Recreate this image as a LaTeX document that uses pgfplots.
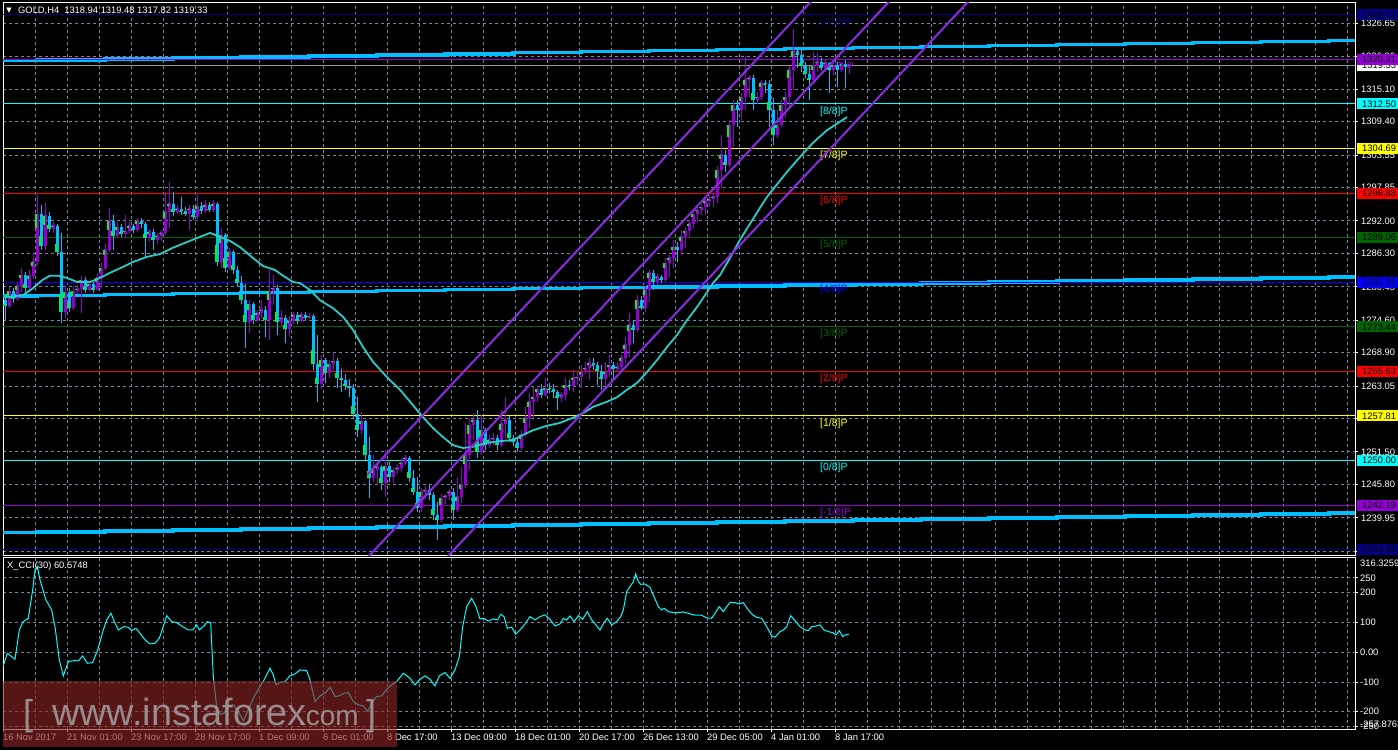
\documentclass[border=0pt]{standalone}
\usepackage{pgfplots}
\pgfplotsset{compat=1.18}
\usepackage{pgfplotstable}
\usepackage{fontspec}
\setmainfont{Liberation Sans}
\newfontfamily\symfont{DejaVu Sans}

\definecolor{gridc}{RGB}{119,136,153}
\definecolor{dsblue}{RGB}{0,191,255}
\definecolor{dviolet}{RGB}{148,0,211}
\definecolor{bviolet}{RGB}{138,43,226}
\definecolor{limec}{RGB}{0,255,0}
\definecolor{navyc}{RGB}{0,0,128}
\definecolor{aquac}{RGB}{0,255,255}
\definecolor{dgreen}{RGB}{0,100,0}
\definecolor{bluec}{RGB}{0,0,255}
\definecolor{redc}{RGB}{255,0,0}
\definecolor{yellowc}{RGB}{255,255,0}
\definecolor{mac}{RGB}{40,205,200}
\definecolor{pricec}{RGB}{150,150,150}
\definecolor{wmred}{RGB}{140,36,36}
\definecolor{wmtext}{RGB}{165,160,160}

% GOLD H4 candles: bar, open, high, low, close
\pgfplotstableread{
i o h l c
0 1278.1 1279.0 1274.6 1277.1
1 1277.1 1280.4 1276.7 1279.7
2 1279.7 1280.2 1277.6 1278.3
3 1278.3 1281.3 1278.0 1280.6
4 1280.6 1283.7 1279.5 1282.5
5 1282.5 1283.1 1279.5 1280.2
6 1280.2 1283.4 1279.9 1282.4
7 1282.4 1286.6 1281.8 1284.8
8 1284.8 1296.6 1284.1 1293.2
9 1293.2 1294.8 1286.9 1287.6
10 1287.6 1295.1 1286.9 1292.9
11 1292.9 1293.6 1290.1 1290.6
12 1290.6 1291.8 1289.9 1291.1
13 1291.1 1291.5 1285.8 1286.6
14 1286.6 1289.9 1274.1 1276.0
15 1276.0 1280.8 1275.0 1279.5
16 1279.5 1280.2 1276.0 1276.7
17 1276.7 1280.6 1276.4 1279.7
18 1279.7 1280.8 1279.2 1280.1
19 1280.1 1282.4 1275.9 1281.6
20 1281.6 1282.2 1279.4 1279.9
21 1279.9 1281.5 1279.5 1280.9
22 1280.9 1281.3 1279.4 1279.9
23 1279.9 1282.9 1279.7 1282.0
24 1282.0 1284.8 1280.2 1283.7
25 1283.7 1288.0 1283.4 1286.9
26 1286.9 1294.3 1286.6 1292.0
27 1292.0 1293.0 1286.9 1289.4
28 1289.4 1291.8 1289.0 1290.9
29 1290.9 1291.5 1289.2 1289.7
30 1289.7 1293.0 1289.0 1290.2
31 1290.2 1291.8 1289.7 1291.1
32 1291.1 1291.5 1289.9 1290.4
33 1290.4 1292.5 1290.1 1292.0
34 1292.0 1292.5 1290.8 1291.5
35 1291.5 1291.8 1285.7 1289.0
36 1289.0 1290.6 1288.3 1290.1
37 1290.1 1290.6 1286.9 1288.7
38 1288.7 1289.9 1288.0 1289.4
39 1289.4 1290.4 1288.5 1289.9
40 1289.9 1297.1 1289.5 1293.6
41 1293.6 1298.8 1290.8 1295.0
42 1295.0 1297.1 1292.9 1293.6
43 1293.6 1294.8 1293.2 1294.1
44 1294.1 1296.2 1293.0 1293.7
45 1293.7 1294.4 1292.9 1293.2
46 1293.2 1294.8 1290.4 1294.1
47 1294.1 1294.8 1292.2 1292.7
48 1292.7 1296.6 1292.3 1294.6
49 1294.6 1295.3 1293.2 1293.7
50 1293.7 1295.7 1293.4 1294.8
51 1294.8 1295.3 1293.6 1293.9
52 1293.9 1295.7 1293.6 1295.0
53 1295.0 1295.3 1284.1 1284.8
54 1284.8 1290.8 1283.7 1289.5
55 1289.5 1289.9 1283.1 1283.7
56 1283.7 1287.3 1283.4 1286.6
57 1286.6 1286.9 1282.7 1283.4
58 1283.4 1284.1 1280.4 1281.1
59 1281.1 1282.4 1277.4 1278.1
60 1278.1 1280.9 1269.7 1274.3
61 1274.3 1278.1 1272.4 1277.4
62 1277.4 1277.8 1273.9 1274.6
63 1274.6 1276.4 1274.3 1275.9
64 1275.9 1278.1 1275.0 1276.4
65 1276.4 1277.1 1271.7 1274.6
66 1274.6 1283.4 1271.1 1279.7
67 1279.7 1282.5 1277.3 1280.2
68 1280.2 1280.8 1272.0 1274.3
69 1274.3 1276.4 1273.6 1275.0
70 1275.0 1275.5 1270.6 1273.1
71 1273.1 1275.3 1271.7 1274.5
72 1274.5 1276.0 1273.9 1275.5
73 1275.5 1276.0 1273.9 1274.5
74 1274.5 1276.0 1274.3 1275.5
75 1275.5 1276.0 1274.6 1275.0
76 1275.0 1275.9 1274.8 1275.3
77 1275.3 1275.7 1265.9 1266.9
78 1266.9 1272.0 1260.3 1263.4
79 1263.4 1268.5 1262.5 1267.6
80 1267.6 1268.0 1263.6 1265.3
81 1265.3 1267.6 1264.5 1266.9
82 1266.9 1268.8 1265.9 1267.4
83 1267.4 1268.0 1262.7 1264.5
84 1264.5 1266.0 1262.0 1264.1
85 1264.1 1265.2 1262.4 1263.1
86 1263.1 1264.3 1261.1 1262.7
87 1262.7 1263.4 1257.5 1258.2
88 1258.2 1261.1 1254.1 1255.3
89 1255.3 1258.5 1254.6 1256.9
90 1256.9 1257.1 1250.1 1251.0
91 1251.0 1254.1 1243.4 1246.9
92 1246.9 1251.0 1246.2 1248.3
93 1248.3 1249.7 1245.7 1248.9
94 1248.9 1249.2 1244.8 1246.1
95 1246.1 1251.8 1243.6 1249.0
96 1249.0 1249.7 1246.2 1247.1
97 1247.1 1248.9 1246.1 1248.3
98 1248.3 1249.4 1247.6 1248.7
99 1248.7 1250.5 1248.0 1249.6
100 1249.6 1251.0 1249.2 1250.5
101 1250.5 1250.8 1246.2 1246.9
102 1246.9 1248.3 1244.0 1244.5
103 1244.5 1247.1 1241.0 1241.7
104 1241.7 1245.2 1241.0 1244.5
105 1244.5 1245.5 1243.3 1244.8
106 1244.8 1245.7 1243.1 1244.0
107 1244.0 1244.5 1239.6 1240.5
108 1240.5 1242.7 1236.1 1239.6
109 1239.6 1244.1 1239.2 1243.4
110 1243.4 1244.1 1242.4 1243.8
111 1243.8 1245.0 1243.1 1244.5
112 1244.5 1245.2 1239.6 1241.3
113 1241.3 1247.1 1241.0 1243.6
114 1243.6 1248.9 1242.6 1245.7
115 1245.7 1256.6 1245.2 1251.0
116 1251.0 1257.5 1248.3 1256.2
117 1256.2 1258.3 1253.6 1257.1
118 1257.1 1258.9 1250.5 1251.5
119 1251.5 1258.0 1251.0 1255.3
120 1255.3 1255.7 1251.8 1252.7
121 1252.7 1254.5 1252.2 1253.6
122 1253.6 1254.8 1252.7 1253.9
123 1253.9 1254.5 1251.8 1252.7
124 1252.7 1258.9 1252.4 1256.4
125 1256.4 1261.1 1253.9 1257.1
126 1257.1 1257.8 1253.2 1253.9
127 1253.9 1254.5 1252.5 1253.2
128 1253.2 1253.9 1251.5 1252.2
129 1252.2 1255.3 1251.8 1254.5
130 1254.5 1259.4 1254.1 1257.5
131 1257.5 1261.8 1255.7 1260.3
132 1260.3 1262.9 1257.5 1261.1
133 1261.1 1263.1 1260.3 1262.5
134 1262.5 1263.4 1261.0 1261.5
135 1261.5 1264.5 1261.1 1262.7
136 1262.7 1263.6 1261.8 1262.5
137 1262.5 1263.4 1261.0 1262.0
138 1262.0 1262.4 1258.9 1261.0
139 1261.0 1262.0 1260.3 1261.5
140 1261.5 1264.5 1260.6 1263.2
141 1263.2 1264.1 1262.4 1263.1
142 1263.1 1265.9 1262.0 1264.5
143 1264.5 1265.5 1263.2 1264.6
144 1264.6 1266.7 1262.7 1265.5
145 1265.5 1267.3 1265.2 1266.2
146 1266.2 1268.0 1264.1 1267.1
147 1267.1 1268.0 1265.9 1266.7
148 1266.7 1267.3 1263.2 1265.7
149 1265.7 1266.7 1262.4 1264.3
150 1264.3 1267.3 1263.2 1265.5
151 1265.5 1268.5 1264.6 1266.7
152 1266.7 1267.3 1264.1 1266.0
153 1266.0 1267.3 1265.5 1266.4
154 1266.4 1268.5 1265.9 1268.0
155 1268.0 1271.7 1267.1 1270.3
156 1270.3 1275.9 1268.1 1273.8
157 1273.8 1274.6 1270.6 1272.9
158 1272.9 1279.0 1272.5 1278.1
159 1278.1 1278.8 1276.4 1276.7
160 1276.7 1280.6 1276.0 1279.9
161 1279.9 1283.4 1277.8 1282.9
162 1282.9 1283.4 1279.9 1281.3
163 1281.3 1282.7 1280.8 1282.2
164 1282.2 1282.5 1281.1 1281.6
165 1281.6 1285.5 1281.3 1284.6
166 1284.6 1286.0 1282.2 1285.5
167 1285.5 1288.7 1283.7 1287.4
168 1287.4 1288.3 1284.8 1286.9
169 1286.9 1290.4 1286.0 1289.2
170 1289.2 1290.9 1287.3 1290.2
171 1290.2 1292.2 1289.0 1291.5
172 1291.5 1293.9 1290.8 1293.2
173 1293.2 1294.4 1291.8 1293.9
174 1293.9 1294.8 1293.0 1294.4
175 1294.4 1296.0 1293.0 1295.5
176 1295.5 1296.6 1294.4 1295.8
177 1295.8 1296.9 1294.4 1296.2
178 1296.2 1301.6 1295.1 1300.9
179 1300.9 1307.1 1297.8 1303.6
180 1303.6 1304.4 1300.6 1301.8
181 1301.8 1309.7 1301.5 1308.8
182 1308.8 1313.2 1305.0 1312.3
183 1312.3 1313.2 1308.5 1311.4
184 1311.4 1314.4 1309.7 1313.7
185 1313.7 1320.9 1311.4 1316.7
186 1316.7 1317.6 1313.7 1317.1
187 1317.1 1317.6 1311.4 1313.2
188 1313.2 1314.6 1312.5 1313.7
189 1313.7 1316.7 1313.2 1316.2
190 1316.2 1316.7 1314.4 1316.0
191 1316.0 1316.7 1308.5 1311.4
192 1311.4 1313.6 1305.3 1307.1
193 1307.1 1311.4 1306.5 1308.8
194 1308.8 1313.2 1308.5 1312.3
195 1312.3 1314.6 1310.0 1313.7
196 1313.7 1319.2 1312.0 1318.5
197 1318.5 1325.6 1315.0 1321.8
198 1321.8 1322.3 1318.8 1321.1
199 1321.1 1322.0 1318.1 1319.2
200 1319.2 1319.9 1317.1 1317.8
201 1317.8 1319.3 1313.2 1316.7
202 1316.7 1321.6 1316.4 1319.2
203 1319.2 1321.4 1318.1 1319.9
204 1319.9 1320.6 1318.5 1318.8
205 1318.8 1320.2 1318.1 1319.7
206 1319.7 1319.9 1314.4 1318.5
207 1318.5 1319.7 1317.6 1319.3
208 1319.3 1319.9 1315.5 1318.5
209 1318.5 1319.9 1318.1 1319.5
210 1319.5 1320.2 1315.3 1318.94
211 1318.94 1319.48 1317.82 1319.33
}\candles

% moving average
\pgfplotstableread{
x y
-0.5 1278.5
4.5 1279.0
7.0 1280.2
9.25 1281.6
11.25 1282.4
13.25 1282.4
15.5 1282.0
18.0 1281.3
21.25 1281.3
23.75 1282.0
26.25 1282.9
28.75 1283.7
32.0 1284.8
35.5 1285.7
38.75 1286.2
42.0 1287.3
45.5 1288.3
48.75 1289.2
51.25 1289.9
53.75 1289.2
56.25 1288.5
58.75 1287.4
62.0 1285.5
64.5 1284.1
67.5 1283.4
69.5 1282.4
72.0 1281.3
73.75 1281.1
76.25 1279.9
78.75 1278.1
82.0 1276.7
84.5 1275.2
87.0 1272.9
89.5 1269.9
92.0 1267.3
95.5 1264.6
98.75 1262.4
102.0 1259.7
104.5 1257.6
107.0 1255.7
109.5 1254.1
112.0 1252.7
114.5 1252.2
117.0 1252.4
120.5 1253.1
123.75 1253.4
127.0 1253.6
129.5 1254.5
132.0 1255.3
135.5 1256.1
138.75 1256.6
142.0 1257.5
144.5 1258.3
147.0 1259.4
150.5 1260.3
153.0 1261.1
155.5 1262.4
158.0 1263.6
160.5 1265.5
163.0 1267.6
165.5 1269.9
168.0 1272.0
170.5 1274.6
173.0 1276.9
175.5 1279.5
177.0 1281.1
178.75 1282.5
181.25 1285.5
183.75 1288.7
186.25 1291.5
188.75 1294.3
190.5 1296.2
195.5 1300.6
198.75 1303.2
202.0 1305.7
205.5 1307.9
210.5 1310.2
}\maline

% stepped envelope lines
\pgfplotstableread{
x top mid bot
-0.5 1320.12 1278.84 1237.38
8 1320.21 1278.93 1237.47
25 1320.39 1279.10 1237.64
42 1320.57 1279.27 1237.82
59 1320.75 1279.44 1237.99
76 1320.93 1279.61 1238.17
93 1321.12 1279.78 1238.34
110 1321.30 1279.95 1238.52
127 1321.48 1280.12 1238.69
144 1321.66 1280.29 1238.86
161 1321.84 1280.46 1239.04
178 1322.02 1280.63 1239.21
195 1322.20 1280.80 1239.39
212 1322.38 1280.97 1239.56
229 1322.57 1281.14 1239.74
246 1322.75 1281.31 1239.91
263 1322.93 1281.48 1240.09
280 1323.11 1281.65 1240.26
297 1323.29 1281.82 1240.44
314 1323.47 1281.99 1240.61
331 1323.65 1282.16 1240.78
337.5 1323.65 1282.16 1240.78
}\envel

\newcommand{\lvl}[2]{\addplot[#1, line width=1bp] coordinates {(-0.5,#2) (337.5,#2)};}
\newcommand{\lvltext}[3]{\node[anchor=north west, inner sep=0pt, text=#1, font=\fontsize{10.5}{12}\selectfont] at (axis cs:203.75,#2) {#3};}
\newcommand{\pbox}[3]{%
  \fill[#2] ([xshift=1.5bp,yshift=-5.5bp]#1) rectangle ([xshift=45bp,yshift=5.5bp]#1);
  \node[anchor=west, inner sep=0pt, text=black] at ([xshift=7bp]#1) {#3};}
% one candle layer: colour, width, x shift, y expression, height expression
\newcommand{\candlelayer}[5]{%
  \addplot[draw=none, mark=none, error bars/.cd, y dir=plus, y explicit, error mark=none,
    error bar style={draw=#1, line width=#2}]
    table[x expr={\thisrow{i}+#3}, y expr={#4}, y error plus expr={#5}] {\candles};}

\begin{document}
\begin{tikzpicture}[font=\fontsize{9.4}{11}\selectfont]
\useasboundingbox (0,0) rectangle (1398bp,-750bp);
\fill[black] (0,0) rectangle (1398bp,-750bp);

\begin{axis}[
  at={(3bp,-3bp)}, anchor=north west,
  scale only axis, width=1352bp, height=552bp,
  xmin=-0.5, xmax=337.5, ymin=1233.44, ymax=1330.20,
  axis line style={white, line width=1bp},
  xtick={7.5,15.5,...,335.5}, xticklabels={}, xtick style={draw=none},
  ytick={1234.10,1239.95,1245.80,1251.50,1257.35,1263.05,1268.90,1274.60,1280.45,1286.30,1292.00,1297.85,1303.55,1309.40,1315.10,1320.80,1326.65},
  yticklabels={1234.10,1239.95,1245.80,1251.50,1257.35,1263.05,1268.90,1274.60,1280.45,1286.30,1292.00,1297.85,1303.55,1309.40,1315.10,1320.80,1326.65},
  ytick pos=right, yticklabel pos=right,
  tick align=outside, major tick length=3bp,
  ytick style={white, line width=1bp},
  tick label style={text=white, inner sep=0pt},
  yticklabel style={anchor=west, xshift=3bp},
  xmajorgrids, ymajorgrids,
  grid style={gridc, line width=1bp, dash pattern=on 3bp off 3bp},
]
\addplot[const plot, dsblue, line width=3.5bp] table[x=x, y=top] {\envel};
\addplot[const plot, dsblue, line width=3.5bp] table[x=x, y=mid] {\envel};
\addplot[const plot, dsblue, line width=3.5bp] table[x=x, y=bot] {\envel};

\lvl{navyc}{1328.13}
\lvl{dviolet}{1320.31}
\lvl{pricec}{1319.33}
\lvl{aquac}{1312.50}
\lvl{yellowc}{1304.69}
\lvl{redc}{1296.88}
\lvl{dgreen}{1289.06}
\lvl{bluec}{1281.25}
\lvl{dgreen}{1273.44}
\lvl{redc}{1265.63}
\lvl{yellowc}{1257.81}
\lvl{aquac}{1250.00}
\lvl{dviolet}{1242.19}
\lvl{navyc}{1234.38}

\lvltext{navyc}{1327.7}{[+2/8]P}
\lvltext{dviolet}{1319.9}{[+1/8]P}
\lvltext{aquac}{1312.1}{[8/8]P}
\lvltext{yellowc}{1304.3}{[7/8]P}
\lvltext{redc}{1296.5}{[6/8]P}
\lvltext{dgreen}{1288.7}{[5/8]P}
\lvltext{bluec}{1280.85}{[4/8]P}
\lvltext{dgreen}{1273.05}{[3/8]P}
\lvltext{redc}{1265.25}{[2/8]P}
\lvltext{yellowc}{1257.4}{[1/8]P}
\lvltext{aquac}{1249.6}{[0/8]P}
\lvltext{dviolet}{1241.8}{[-1/8]P}

% wicks
\candlelayer{dviolet}{1bp}{0}{\thisrow{c}>=\thisrow{o} ? \thisrow{l} : nan}{\thisrow{h}-\thisrow{l}}
\candlelayer{dsblue}{1bp}{0}{\thisrow{c}<\thisrow{o} ? \thisrow{l} : nan}{\thisrow{h}-\thisrow{l}}
% bodies
\candlelayer{dviolet}{3bp}{0}{\thisrow{c}>=\thisrow{o} ? \thisrow{o} : nan}{\thisrow{c}-\thisrow{o}+0.1}
\candlelayer{dsblue}{3bp}{0}{\thisrow{c}<\thisrow{o} ? \thisrow{c} : nan}{\thisrow{o}-\thisrow{c}}
% lime strip at the close end
\candlelayer{limec}{1.6bp}{-0.18}{\thisrow{c}>=\thisrow{o} ? \thisrow{c}-0.3*(\thisrow{c}-\thisrow{o}) : nan}{0.3*(\thisrow{c}-\thisrow{o})}
\candlelayer{limec}{1.6bp}{-0.18}{\thisrow{c}<\thisrow{o} ? \thisrow{c} : nan}{0.3*(\thisrow{o}-\thisrow{c})}

\addplot[mac, line width=1.8bp] table[x=x, y=y] {\maline};

\addplot[bviolet, line width=2bp] coordinates {(90.5,1247.5) (337.5,1432.1)};
\addplot[bviolet, line width=2bp] coordinates {(90.5,1232.9) (337.5,1417.5)};
\addplot[bviolet, line width=2bp] coordinates {(90.5,1218.1) (337.5,1402.7)};

\coordinate (p1) at (axis cs:337.5,1328.13);
\coordinate (p2) at (axis cs:337.5,1320.31);
\coordinate (p0) at (axis cs:337.5,1319.33);
\coordinate (p3) at (axis cs:337.5,1312.50);
\coordinate (p4) at (axis cs:337.5,1304.69);
\coordinate (p5) at (axis cs:337.5,1296.88);
\coordinate (p6) at (axis cs:337.5,1289.06);
\coordinate (p7) at (axis cs:337.5,1281.25);
\coordinate (p8) at (axis cs:337.5,1273.44);
\coordinate (p9) at (axis cs:337.5,1265.63);
\coordinate (p10) at (axis cs:337.5,1257.81);
\coordinate (p11) at (axis cs:337.5,1250.00);
\coordinate (p12) at (axis cs:337.5,1242.19);
\coordinate (p13) at (axis cs:337.5,1234.38);
\end{axis}

\begin{axis}[
  at={(3bp,-557.5bp)}, anchor=north west,
  scale only axis, width=1352bp, height=171.5bp,
  xmin=-0.5, xmax=337.5, ymin=-257.88, ymax=318.1,
  axis line style={white, line width=1bp},
  xtick={-0.5,15.5,...,207.5},
  xticklabels={16 Nov 2017,21 Nov 01:00,23 Nov 17:00,28 Nov 17:00,1 Dec 09:00,6 Dec 01:00,8 Dec 17:00,13 Dec 09:00,18 Dec 01:00,20 Dec 17:00,26 Dec 13:00,29 Dec 05:00,4 Jan 01:00,8 Jan 17:00},
  minor xtick={7.5,15.5,...,335.5},
  xtick pos=bottom, ytick pos=right, yticklabel pos=right,
  ytick={-250,-200,-100,0,100,200,250},
  yticklabels={-250,-200,-100,0.00,100,200,250},
  tick align=outside, major tick length=3bp, minor tick length=0pt,
  tick style={white, line width=1bp},
  tick label style={text=white, inner sep=0pt},
  xticklabel style={anchor=north west, yshift=-1.5bp},
  yticklabel style={anchor=west, xshift=2bp},
  xmajorgrids, xminorgrids, ymajorgrids,
  grid style={gridc, line width=1bp, dash pattern=on 3bp off 3bp},
  minor grid style={gridc, line width=1bp, dash pattern=on 3bp off 3bp},
]
\addplot[aquac, line width=1bp] coordinates {
(-0.5,-48.2) (0.58,-3.5) (2.5,-23.6) (3.58,74.8) (4.58,102.8) (5.83,114.0) (6.92,209.1) (7.5,276.2) (8.08,287.4) (8.75,242.6)
(10.25,175.5) (11.67,141.9) (12.5,86.0) (13.58,-25.8) (14.58,-79.5) (15.83,-31.4) (17.25,-28.1) (18.33,-29.2) (19.42,-12.4)
(20.58,-37.0) (21.92,-34.8) (23.17,7.7) (24.58,74.8) (25.42,108.4) (26.5,130.8) (27.33,102.8) (28.33,74.8) (29.75,86.0)
(30.83,83.8) (31.67,72.6) (32.75,80.4) (33.75,63.6) (35.0,41.3) (36.25,27.8) (37.5,30.1) (38.58,46.9) (39.58,86.0)
(40.42,122.9) (41.67,102.8) (42.92,99.4) (44.17,88.3) (45.83,74.8) (46.92,74.8) (47.92,91.6) (48.58,74.8) (49.75,88.3)
(50.58,102.8) (51.42,99.4) (52.08,-81.8) (52.92,-182.4) (53.75,-208.2) (54.75,-204.8) (55.83,-178.0) (57.08,-176.9)
(58.33,-199.2) (59.58,-230.6) (60.83,-193.6) (62.08,-154.5) (63.75,-115.3) (65.0,-87.4) (66.25,-53.8) (67.08,-76.2)
(67.75,-109.7) (68.75,-101.9) (70.0,-98.5) (71.25,-79.5) (72.5,-72.8) (73.75,-59.4) (75.42,-61.6) (76.25,-92.9)
(77.5,-165.7) (78.75,-146.6) (80.0,-137.7) (81.25,-117.6) (82.5,-148.9) (83.58,-146.6) (84.75,-137.7) (85.83,-135.5)
(87.08,-165.7) (88.33,-176.9) (89.58,-180.2) (90.67,-199.2) (91.67,-171.3) (92.92,-148.9) (94.17,-146.6) (95.42,-124.3)
(96.67,-109.7) (97.92,-98.5) (99.58,-70.6) (101.25,-87.4) (102.5,-109.7) (103.58,-92.9) (105.0,-79.5) (106.25,-90.7)
(107.5,-113.1) (108.58,-79.5) (110.0,-68.3) (111.25,-88.0) (112.5,-59.4) (113.58,-14.7) (114.42,86.0) (115.42,153.1)
(116.67,181.1) (117.75,153.1) (118.75,111.7) (119.75,114.0) (120.83,105.0) (122.08,111.7) (123.17,108.4) (123.92,127.4)
(124.75,119.6) (125.58,80.4) (126.67,83.8) (127.67,60.3) (128.75,74.8) (130.0,95.0) (131.25,119.6) (132.5,108.4)
(133.75,119.6) (135.0,125.2) (136.25,110.6) (137.5,88.3) (138.75,95.0) (139.58,114.0) (140.42,108.4) (141.25,121.8)
(142.25,102.8) (143.33,122.9) (144.42,110.6) (145.58,136.4) (146.67,108.4) (147.75,91.6) (148.75,74.8) (149.75,99.4)
(150.58,114.0) (151.67,91.6) (152.92,102.8) (153.92,119.6) (154.58,141.9) (155.42,203.5) (156.25,220.3) (157.08,237.0)
(157.67,262.8) (158.33,237.0) (158.92,228.1) (160.0,229.2) (161.25,218.0) (162.25,186.7) (163.33,153.1) (164.17,141.9)
(164.75,147.5) (165.83,136.4) (167.08,133.0) (168.33,133.0) (169.58,135.2) (170.83,130.8) (172.08,125.2) (174.17,124.1)
(175.42,115.1) (176.67,114.0) (177.5,130.8) (178.58,153.1) (179.58,136.4) (180.42,153.1) (181.25,166.6) (182.5,166.6)
(183.58,162.1) (184.58,166.6) (185.83,141.9) (186.92,125.2) (187.92,117.3) (189.17,114.0) (190.42,86.0) (191.67,54.7)
(192.5,50.2) (193.75,69.2) (194.58,74.8) (195.42,86.0) (196.42,122.9) (197.5,106.2) (198.75,86.0) (200.0,74.8)
(200.83,72.6) (201.67,86.0) (202.92,88.3) (203.75,91.6) (204.75,74.8) (205.83,69.2) (206.92,65.9) (207.75,58.1)
(208.58,72.6) (209.42,52.5) (210.0,58.1) (211.0,60.57)
};
\coordinate (ctop) at (axis cs:337.5,316.3259);
\coordinate (cbot) at (axis cs:337.5,-257.8763);
\end{axis}

% price labels on the right scale
\pbox{p0}{white}{1319.33}
\pbox{p1}{navyc}{1328.13}
\pbox{p2}{dviolet}{1320.31}
\pbox{p3}{aquac}{1312.50}
\pbox{p4}{yellowc}{1304.69}
\pbox{p5}{redc}{1296.88}
\pbox{p6}{dgreen}{1289.06}
\pbox{p7}{bluec}{1281.25}
\pbox{p8}{dgreen}{1273.44}
\pbox{p9}{redc}{1265.63}
\pbox{p10}{yellowc}{1257.81}
\pbox{p11}{aquac}{1250.00}
\pbox{p12}{dviolet}{1242.19}
\pbox{p13}{navyc}{1234.38}
\node[anchor=west, inner sep=0pt, text=white] at ([xshift=5bp,yshift=-5bp]ctop) {316.3259};
\node[anchor=west, inner sep=0pt, text=white] at ([xshift=5bp,yshift=5bp]cbot) {-257.8763};

% headers
\node[inner sep=0pt, text=white, font=\symfont\fontsize{7}{8}\selectfont] at (9bp,-10.5bp) {▼};
\node[anchor=west, inner sep=0pt, text=white] at (18bp,-10.7bp) {GOLD,H4\hspace{5bp}1318.94 1319.48 1317.82 1319.33};
\node[anchor=west, inner sep=0pt, text=white] at (7bp,-565.7bp) {X\_CCI(30) 60.5748};

% watermark
\fill[wmred, fill opacity=0.62] (3bp,-681bp) rectangle (397bp,-747bp);
\begin{scope}[text opacity=0.85]
\node[anchor=base west, inner sep=0pt, text=wmtext, font=\fontsize{36}{40}\selectfont] at (23bp,-725bp) {[};
\node[anchor=base west, inner sep=0pt, text=wmtext, font=\fontsize{38}{40}\selectfont] at (52bp,-725bp) {www.instaforex};
\node[anchor=base west, inner sep=0pt, text=wmtext, font=\fontsize{28}{30}\selectfont] at (298bp,-725bp) {.com};
\node[anchor=base west, inner sep=0pt, text=wmtext, font=\fontsize{36}{40}\selectfont] at (366bp,-725bp) {]};
\end{scope}
\end{tikzpicture}
\end{document}
